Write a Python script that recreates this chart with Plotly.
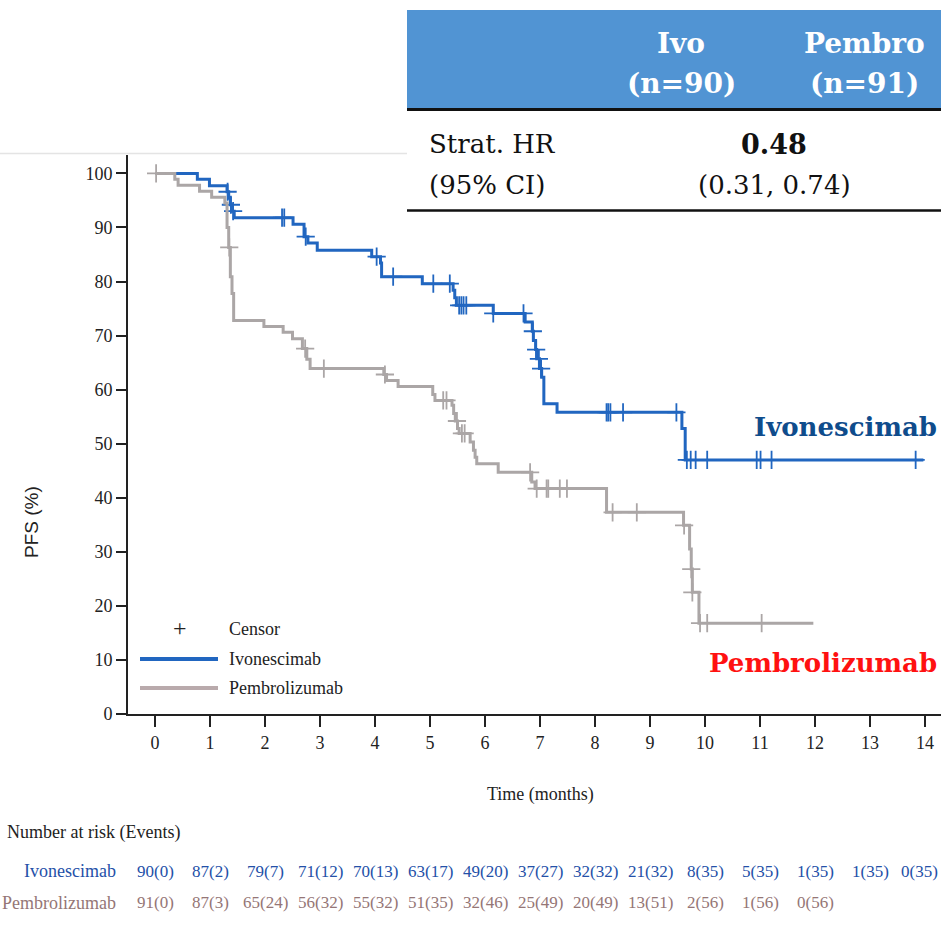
import numpy as np
import plotly.graph_objects as go

# ---------------- data ----------------
ivo_t = [0, 0.77, 0.99, 1.31, 1.34, 1.37, 1.40, 1.44, 2.51, 2.71, 2.78, 2.95, 3.94, 4.10, 4.12,
         4.86, 5.42, 5.45, 5.48, 6.15, 6.73, 6.86, 6.88, 6.92, 6.94, 6.99, 7.03, 7.07, 7.31,
         9.58, 9.64, 13.97]
ivo_s = [100, 98.9, 97.7, 96.6, 95.4, 94.2, 93.0, 91.8, 90.6, 88.3, 87.1, 85.8, 84.6, 83.4, 80.9,
         79.6, 78.4, 77.0, 75.6, 74.1, 72.5, 70.8, 69.1, 67.4, 65.7, 63.9, 62.3, 57.4, 55.8,
         52.8, 47.0, 47.0]
ivo_cens = [1.32, 1.38, 1.42, 2.31, 2.35, 2.74, 4.03, 4.33, 5.06, 5.36, 5.53, 5.57, 5.61, 5.66,
            6.15, 6.70, 6.87, 6.93, 6.98, 7.02, 8.21, 8.24, 8.28, 8.51, 9.48, 9.67, 9.74, 9.83,
            10.04, 10.94, 11.01, 11.21, 13.83]

pem_t = [0, 0.36, 0.42, 0.81, 1.03, 1.27, 1.31, 1.34, 1.37, 1.40, 1.43, 1.98, 2.33, 2.50, 2.68,
         2.76, 2.82, 4.16, 4.21, 4.42, 5.05, 5.09, 5.40, 5.43, 5.46, 5.50, 5.53, 5.73, 5.79, 5.82,
         5.85, 6.24, 6.85, 6.91, 8.21, 9.61, 9.72, 9.75, 9.77, 9.89, 11.97]
pem_s = [100, 98.9, 97.8, 96.7, 95.6, 94.5, 90.0, 86.3, 80.9, 77.8, 72.8, 71.7, 70.6, 69.4, 67.6,
         65.6, 63.9, 62.8, 61.7, 60.6, 59.1, 58.0, 57.1, 55.6, 54.2, 52.8, 51.9, 50.3, 48.8, 47.5,
         46.3, 44.7, 42.9, 41.7, 37.3, 34.9, 30.5, 26.8, 22.5, 16.8, 16.8]
pem_cens = [0.02, 1.35, 2.73, 3.07, 4.18, 5.24, 5.30, 5.49, 5.58, 5.63, 6.82, 6.94, 7.12, 7.15,
            7.36, 7.49, 8.32, 8.76, 9.62, 9.75, 9.77, 9.91, 10.04, 11.03]

x_ticks = list(range(15))
y_ticks = list(range(0, 101, 10))
ivo_risk = ["90(0)", "87(2)", "79(7)", "71(12)", "70(13)", "63(17)", "49(20)", "37(27)", "32(32)",
            "21(32)", "8(35)", "5(35)", "1(35)", "1(35)", "0(35)"]
pem_risk = ["91(0)", "87(3)", "65(24)", "56(32)", "55(32)", "51(35)", "32(46)", "25(49)", "20(49)",
            "13(51)", "2(56)", "1(56)", "0(56)"]

# ---------------- style ----------------
BLUE = "#2166c0"
GRAY = "#aba6a6"
SERIF = "Liberation Serif"
TSERIF = "DejaVu Serif"
W, H = 941, 938
L, R, T, B = 128, 0, 155, 224
PW, PH = W - L - R, H - T - B


def px(x):
    return (x - L) / PW


def py(y):
    return (H - B - y) / PH


def step_at(times, surv, tc):
    idx = np.searchsorted(np.array(times), np.array(tc), side="right") - 1
    return np.array(surv)[idx]


fig = go.Figure()
fig.add_trace(go.Scatter(x=ivo_t, y=ivo_s, mode="lines", line=dict(color=BLUE, width=3, shape="hv"),
                         name="Ivonescimab", showlegend=False, hoverinfo="skip"))
fig.add_trace(go.Scatter(x=ivo_cens, y=step_at(ivo_t, ivo_s, ivo_cens), mode="markers",
                         marker=dict(symbol="cross-thin", size=13, line=dict(color=BLUE, width=1.8)),
                         showlegend=False, hoverinfo="skip"))
fig.add_trace(go.Scatter(x=pem_t, y=pem_s, mode="lines", line=dict(color=GRAY, width=3, shape="hv"),
                         name="Pembrolizumab", showlegend=False, hoverinfo="skip"))
fig.add_trace(go.Scatter(x=pem_cens, y=step_at(pem_t, pem_s, pem_cens), mode="markers",
                         marker=dict(symbol="cross-thin", size=13, line=dict(color=GRAY, width=1.8)),
                         showlegend=False, hoverinfo="skip"))

ann = []
shapes = []

# table at top right
shapes.append(dict(type="rect", xref="paper", yref="paper", x0=px(407), x1=px(941), y0=py(108), y1=py(10),
                   fillcolor="#5194d3", line=dict(width=0), layer="above"))
shapes.append(dict(type="line", xref="paper", yref="paper", x0=px(407), x1=px(941), y0=py(109.5), y1=py(109.5),
                   line=dict(color="#111", width=3)))
shapes.append(dict(type="line", xref="paper", yref="paper", x0=px(407), x1=px(941), y0=py(210.5), y1=py(210.5),
                   line=dict(color="#111", width=2.5)))
shapes.append(dict(type="line", xref="paper", yref="paper", x0=px(0), x1=px(407), y0=py(153.5), y1=py(153.5),
                   line=dict(color="#e4e4e4", width=1.5)))

def txt(x, y, s, size, color="#111", family=SERIF, xanchor="center", bold=False, angle=0):
    if bold:
        s = "<b>" + s + "</b>"
    ann.append(dict(x=px(x), y=py(y), xref="paper", yref="paper", text=s, showarrow=False,
                    xanchor=xanchor, yanchor="middle", textangle=angle,
                    font=dict(family=family, size=size, color=color)))

txt(681, 43, "Ivo", 28, "white", TSERIF, bold=True)
txt(681, 83, "(n=90)", 28, "white", TSERIF, bold=True)
txt(864, 43, "Pembro", 28, "white", TSERIF, bold=True)
txt(864, 83, "(n=91)", 28, "white", TSERIF, bold=True)
txt(427, 144, "Strat. HR", 26, "#111", TSERIF, xanchor="left")
txt(427, 185, "(95% CI)", 26, "#111", TSERIF, xanchor="left")
txt(774, 144, "0.48", 27, "#111", TSERIF, bold=True)
txt(774, 185, "(0.31, 0.74)", 26, "#111", TSERIF)

# curve labels
txt(939, 427, "Ivonescimab", 26, "#0f4c8c", TSERIF, xanchor="right", bold=True)
txt(939, 663, "Pembrolizumab", 26, "#ff1111", TSERIF, xanchor="right", bold=True)

# legend
txt(180, 628, "+", 24, "#222", SERIF)
txt(227, 629, "Censor", 18, "#222", SERIF, xanchor="left")
txt(227, 659, "Ivonescimab", 18, "#222", SERIF, xanchor="left")
txt(227, 688, "Pembrolizumab", 18, "#222", SERIF, xanchor="left")
shapes.append(dict(type="line", xref="paper", yref="paper", x0=px(140), x1=px(218), y0=py(659), y1=py(659),
                   line=dict(color=BLUE, width=4)))
shapes.append(dict(type="line", xref="paper", yref="paper", x0=px(140), x1=px(218), y0=py(688), y1=py(688),
                   line=dict(color="#b9aaac", width=4)))

# axis titles
txt(540, 794, "Time (months)", 18, "#222", SERIF)
txt(31, 522, "PFS (%)", 19, "#222", "Liberation Sans", angle=-90)

# risk table
txt(5, 832, "Number at risk (Events)", 18, "#222", SERIF, xanchor="left")
txt(118, 871, "Ivonescimab", 18, "#2450a8", SERIF, xanchor="right")
txt(118, 903, "Pembrolizumab", 18, "#957676", SERIF, xanchor="right")
last = len(ivo_risk) - 1
for i, s in enumerate(ivo_risk):
    a = dict(x=x_ticks[i], y=py(871), xref="x", yref="paper", text=s, showarrow=False,
             xanchor="center", yanchor="middle", font=dict(family=SERIF, size=17, color="#2450a8"))
    if i == last:
        a.update(x=px(940), xref="paper", xanchor="right")
    ann.append(a)
for i, s in enumerate(pem_risk):
    ann.append(dict(x=x_ticks[i], y=py(903), xref="x", yref="paper", text=s, showarrow=False,
                    xanchor="center", yanchor="middle", font=dict(family=SERIF, size=17, color="#957676")))

x_per = 55.0
x0_px = 155.0
fig.update_layout(
    width=W, height=H,
    margin=dict(l=L, r=R, t=T, b=B),
    paper_bgcolor="white", plot_bgcolor="white",
    showlegend=False,
    annotations=ann, shapes=shapes,
    xaxis=dict(range=[(L - x0_px) / x_per, (W - R - x0_px) / x_per], tickvals=x_ticks,
               showline=True, linecolor="#222", linewidth=2, ticks="outside", ticklen=11, tickwidth=2,
               tickcolor="#222", showgrid=False, zeroline=False,
               tickfont=dict(family=SERIF, size=18, color="#222")),
    yaxis=dict(range=[0, 103.4], tickvals=y_ticks,
               showline=True, linecolor="#222", linewidth=2, ticks="outside", ticklen=10, tickwidth=2,
               tickcolor="#222", showgrid=False, zeroline=False,
               tickfont=dict(family=SERIF, size=18, color="#222")),
)

fig.write_html("out.html", config={"displayModeBar": False},
               post_script="document.body.style.margin='0';document.body.style.overflow='hidden';")
